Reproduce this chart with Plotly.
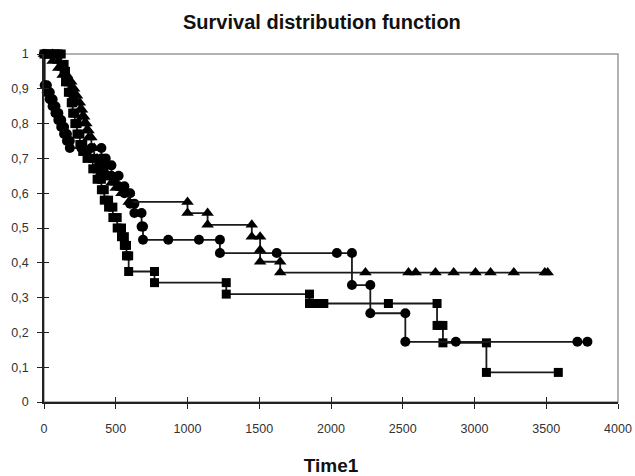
import plotly.graph_objects as go

# Kaplan-Meier step points: each event gives two points
# (same time, survival before / after), each censored case one point.
tri_time = [0, 60, 60, 100, 100, 130, 130, 160, 160, 190, 190, 210, 210, 230, 230,
            250, 250, 265, 265, 280, 280, 295, 295, 310, 310, 330, 330, 350, 350,
            370, 370, 400, 400, 430, 430, 470, 470, 500, 500, 540, 540, 590, 590,
            1000, 1000, 1140, 1140, 1448, 1448, 1506, 1506, 1506, 1646, 1646,
            2240, 2540, 2590, 2728, 2855, 3007, 3112, 3274, 3490, 3510]
tri_surv = [1.0, 1.0, 0.98, 0.98, 0.96, 0.96, 0.94, 0.94, 0.92, 0.92, 0.90, 0.90, 0.88,
            0.88, 0.86, 0.86, 0.84, 0.84, 0.82, 0.82, 0.80, 0.80, 0.78, 0.78, 0.76,
            0.76, 0.73, 0.73, 0.70, 0.70, 0.68, 0.68, 0.66, 0.66, 0.645, 0.645, 0.63,
            0.63, 0.615, 0.615, 0.60, 0.60, 0.575,
            0.575, 0.543, 0.543, 0.509, 0.509, 0.475, 0.475, 0.437, 0.403, 0.403, 0.372,
            0.372, 0.372, 0.372, 0.372, 0.372, 0.372, 0.372, 0.372, 0.372, 0.372]

circ_time = [0, 5, 5, 20, 20, 40, 40, 60, 60, 80, 80, 100, 100, 120, 120, 140, 140,
             160, 160, 180, 180, 260, 330, 400, 400, 430, 430, 470, 470, 520, 520,
             560, 560, 600, 600, 630, 630, 680, 680, 690, 690,
             866, 1080, 1226, 1226, 1622, 2041, 2146, 2146, 2274, 2274, 2518, 2518,
             2870, 3717, 3787]
circ_surv = [1.0, 1.0, 0.91, 0.91, 0.89, 0.89, 0.87, 0.87, 0.85, 0.85, 0.83, 0.83, 0.81,
             0.81, 0.79, 0.79, 0.77, 0.77, 0.75, 0.75, 0.73, 0.73, 0.73, 0.73, 0.70,
             0.70, 0.68, 0.68, 0.65, 0.65, 0.62, 0.62, 0.60, 0.60, 0.57, 0.57, 0.543,
             0.543, 0.504, 0.504, 0.466,
             0.466, 0.466, 0.466, 0.428, 0.428, 0.428, 0.428, 0.336, 0.336, 0.255,
             0.255, 0.173, 0.173, 0.173, 0.173]

sq_time = [0, 20, 40, 60, 80, 100, 120, 120, 140, 140, 150, 150, 170, 170, 190, 190,
           200, 200, 215, 215, 230, 230, 250, 250, 270, 270, 300, 300, 340, 340,
           370, 370, 400, 400, 420, 420, 450, 450, 480, 480, 510, 510, 540, 540,
           560, 560, 575, 575, 590, 590, 770, 770, 1270, 1270, 1850, 1850, 1900,
           1950, 2400, 2739, 2739, 2760, 2780, 2780, 3083, 3083, 3584]
sq_surv = [1.0, 1.0, 1.0, 1.0, 1.0, 1.0, 1.0, 0.97, 0.97, 0.95, 0.95, 0.92, 0.92, 0.89,
           0.89, 0.86, 0.86, 0.83, 0.83, 0.80, 0.80, 0.77, 0.77, 0.74, 0.74, 0.72,
           0.72, 0.70, 0.70, 0.67, 0.67, 0.64, 0.64, 0.61, 0.61, 0.58, 0.58, 0.56,
           0.56, 0.53, 0.53, 0.50, 0.50, 0.475, 0.475, 0.45, 0.45, 0.42, 0.42, 0.375,
           0.375, 0.343, 0.343, 0.31, 0.31, 0.283, 0.283, 0.283, 0.283, 0.283, 0.22,
           0.22, 0.22, 0.17, 0.17, 0.085, 0.085]

x_ticks = [0, 500, 1000, 1500, 2000, 2500, 3000, 3500, 4000]
y_ticks = [0, 0.1, 0.2, 0.3, 0.4, 0.5, 0.6, 0.7, 0.8, 0.9, 1]
y_labels = ["0", "0,1", "0,2", "0,3", "0,4", "0,5", "0,6", "0,7", "0,8", "0,9", "1"]

fig = go.Figure()

series = [
    (sq_time, sq_surv, "square", 9),
    (circ_time, circ_surv, "circle", 10),
    (tri_time, tri_surv, "triangle-up", 11),
]
for t, s, symbol, size in series:
    fig.add_trace(go.Scatter(
        x=t, y=s,
        mode="lines+markers",
        line=dict(color="#1a1a1a", width=1.8, shape="hv"),
        marker=dict(symbol=symbol, size=size, color="black"),
        cliponaxis=False,
        showlegend=False,
    ))

FONT = "Liberation Sans, Arial, sans-serif"
axis_font = dict(family=FONT, size=12.5, color="#333")

fig.update_layout(
    width=635, height=476,
    margin=dict(l=44, r=17, t=54, b=74),
    paper_bgcolor="white", plot_bgcolor="rgba(0,0,0,0)",
    title=dict(text="<b>Survival distribution function</b>",
               x=0.507, xanchor="center", y=0.954, yanchor="middle", yref="container",
               font=dict(family=FONT, size=20, color="#111")),
    xaxis=dict(range=[0, 4000], tickvals=x_ticks, ticks="outside", ticklen=5,
               tickcolor="#222", showline=True, linecolor="#222", linewidth=1.5,
               showgrid=False, zeroline=False, tickfont=axis_font, ticklabelstandoff=9,
               automargin=False,
               title=dict(text="<b>Time1</b>", standoff=24,
                          font=dict(family=FONT, size=19, color="#111"))),
    yaxis=dict(range=[0, 1], tickvals=y_ticks, ticktext=y_labels, ticks="outside",
               ticklen=5, tickcolor="#222", showline=True, linecolor="#222", linewidth=1.5,
               showgrid=False, zeroline=False, tickfont=axis_font, ticklabelstandoff=6,
               automargin=False),
    # inside halves of the crossing tick marks
    xaxis2=dict(range=[0, 4000], tickvals=x_ticks, overlaying="x", anchor="y", side="bottom",
                ticks="inside", ticklen=5, tickcolor="#222", showticklabels=False,
                showline=False, showgrid=False, zeroline=False, automargin=False),
    yaxis2=dict(range=[0, 1], tickvals=y_ticks, overlaying="y", anchor="x", side="left",
                ticks="inside", ticklen=5, tickcolor="#222", showticklabels=False,
                showline=False, showgrid=False, zeroline=False, automargin=False),
    shapes=[dict(type="rect", xref="paper", yref="paper", x0=0, x1=1, y0=0, y1=1,
                 line=dict(color="#9a9a9a", width=1.5), layer="below")],
)
# dummy trace so the overlay axes are drawn
fig.add_trace(go.Scatter(x=[None], y=[None], xaxis="x2", yaxis="y2", showlegend=False))

# drop the default 8px page margin so the figure fills the window exactly
fig.write_html("out.html",
               config={"displayModeBar": False},
               post_script="document.body.style.margin='0';document.body.style.overflow='hidden';")
